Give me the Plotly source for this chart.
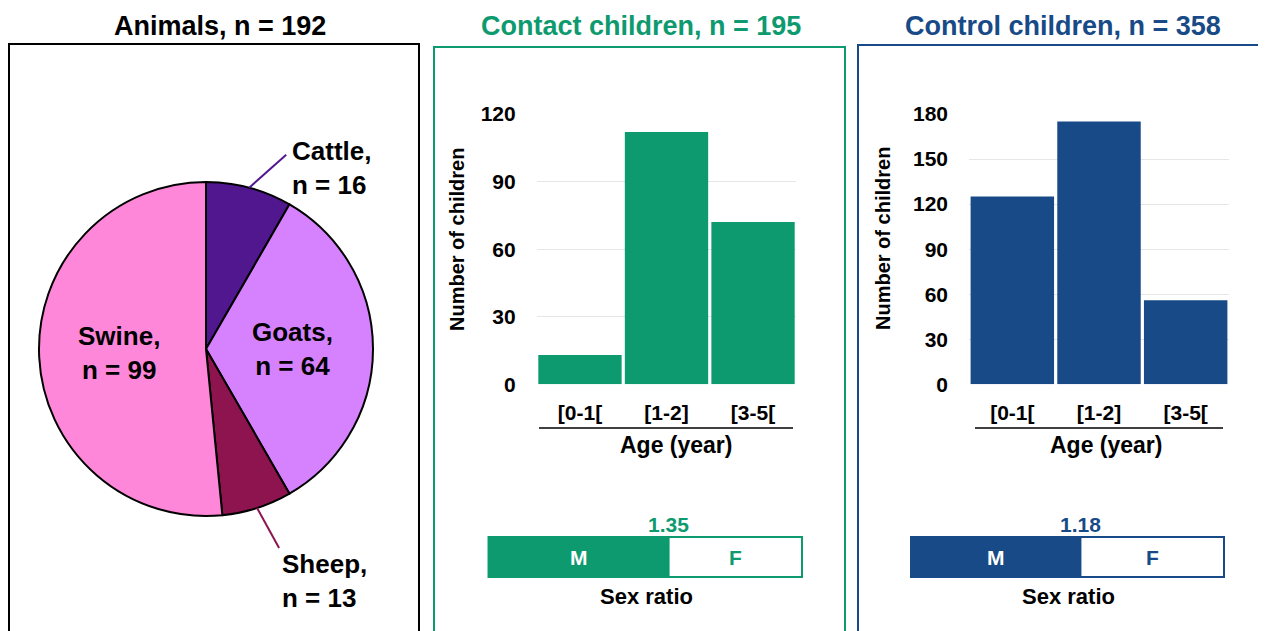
import math
import plotly.graph_objects as go

# ---------------- data ----------------
animal_labels = ["Cattle", "Goats", "Sheep", "Swine"]
animal_counts = [16, 64, 13, 99]
animals_n = 192

age_groups = ["[0-1[", "[1-2]", "[3-5["]
contact_counts = [13, 112, 72]
control_counts = [125, 175, 56]
contact_n = 195
control_n = 358

contact_sex_ratio = 1.35
control_sex_ratio = 1.18

contact_yticks = [0, 30, 60, 90, 120]
control_yticks = [0, 30, 60, 90, 120, 150, 180]

# ---------------- style ----------------
VW, VH = 1266, 631          # browser window
OFF = 8                     # default body margin of the page
W, H = VW - OFF, VH - OFF   # figure size so it fits the window
FONT = "Arial, 'Liberation Sans', Helvetica, sans-serif"
animal_colors = ["#50178E", "#D682FF", "#8E1450", "#FF87D9"]
GREEN = "#0E9A6F"
BLUE = "#174A86"
GRID = "#E6E6E6"


def fx(px):
    return (px - OFF) / W


def fy(py):
    return 1 - (py - OFF) / H


def bold(size, color="black"):
    return dict(family=FONT, size=size, color=color, weight="bold")


fig = go.Figure()

# ---------------- pie ----------------
pie_cx, pie_cy, pie_r = 206, 349, 167
fig.add_trace(go.Pie(
    labels=animal_labels, values=animal_counts, sort=False,
    direction="clockwise", rotation=0, textinfo="none",
    marker=dict(colors=animal_colors, line=dict(color="black", width=2)),
    domain=dict(x=[fx(pie_cx - pie_r), fx(pie_cx + pie_r)],
                y=[fy(pie_cy + pie_r), fy(pie_cy - pie_r)]),
    showlegend=False, hoverinfo="label+value", automargin=False,
))

# pie labels positioned from slice angles
total = sum(animal_counts)
outside_style = {
    "Cattle": dict(line=(37, -33), text=(41, -20)),
    "Sheep": dict(line=(22, 40), text=(23, 73)),
}
cum = 0
annotations = []
shapes = []
for lab, val, col in zip(animal_labels, animal_counts, animal_colors):
    a0 = cum / total * 360
    cum += val
    a1 = cum / total * 360
    mid = math.radians((a0 + a1) / 2)
    txt = f"{lab},<br>n = {val}"
    if lab in outside_style:
        sx = pie_cx + pie_r * math.sin(mid)
        sy = pie_cy - pie_r * math.cos(mid)
        lx, ly = outside_style[lab]["line"]
        tx, ty = outside_style[lab]["text"]
        shapes.append(dict(type="line", xref="paper", yref="paper",
                           x0=fx(sx), y0=fy(sy), x1=fx(sx + lx), y1=fy(sy + ly),
                           line=dict(color=col, width=2)))
        annotations.append(dict(x=fx(sx + tx), y=fy(sy + ty), xref="paper", yref="paper",
                                text=txt, showarrow=False, xanchor="left", yanchor="middle",
                                align="left", font=bold(26)))
    else:
        rf = 0.52
        px_ = pie_cx + rf * pie_r * math.sin(mid)
        py_ = pie_cy - rf * pie_r * math.cos(mid)
        annotations.append(dict(x=fx(px_), y=fy(py_), xref="paper", yref="paper",
                                text=txt, showarrow=False, xanchor="center", yanchor="middle",
                                align="center", font=bold(26)))

# ---------------- bar charts ----------------
fig.add_trace(go.Bar(x=age_groups, y=contact_counts, marker=dict(color=GREEN, line=dict(width=0)),
                     xaxis="x", yaxis="y", showlegend=False))
fig.add_trace(go.Bar(x=age_groups, y=control_counts, marker=dict(color=BLUE, line=dict(width=0)),
                     xaxis="x2", yaxis="y2", showlegend=False))


# ---------------- sex ratio bars ----------------
def sex_bars(ratio, color, xa, ya):
    fig.add_trace(go.Bar(y=[0], x=[ratio], base=[0], orientation="h", width=1,
                         marker=dict(color=color, line=dict(color=color, width=2)),
                         xaxis=xa, yaxis=ya, showlegend=False, hoverinfo="skip"))
    fig.add_trace(go.Bar(y=[0], x=[1], base=[ratio], orientation="h", width=1,
                         marker=dict(color="white", line=dict(color=color, width=2)),
                         xaxis=xa, yaxis=ya, showlegend=False, hoverinfo="skip"))


sex_bars(contact_sex_ratio, GREEN, "x3", "y3")
sex_bars(control_sex_ratio, BLUE, "x4", "y4")

tickfont = bold(21)
bar_y_dom = [fy(384.3), fy(114)]


def bar_axes(xdom, yrange, yticks):
    xa = dict(domain=xdom, type="category", showline=False, showgrid=False, zeroline=False,
              ticks="", tickfont=tickfont, ticklabelstandoff=14, automargin=False)
    ya = dict(domain=bar_y_dom, range=yrange, tickvals=yticks, showline=False, showgrid=True,
              gridcolor=GRID, gridwidth=1, zeroline=False, ticks="", tickfont=tickfont,
              ticklabelstandoff=20, automargin=False)
    return xa, ya


xa1, ya1 = bar_axes([fx(536.7), fx(796.3)], [0, 120], contact_yticks)
xa2, ya2 = bar_axes([fx(969), fx(1229)], [0, 180], control_yticks)
xa1["anchor"] = "y"
ya1["anchor"] = "x"
xa2["anchor"] = "y2"
ya2["anchor"] = "x2"


def sex_axes(x0, x1, ratio, anchor):
    tot = ratio + 1
    pad_px = 1.5
    pad = pad_px * tot / (x1 - x0)
    xa = dict(domain=[fx(x0 - pad_px), fx(x1 + pad_px)], range=[-pad, tot + pad], visible=False,
              anchor=anchor[1], fixedrange=True, automargin=False)
    ya = dict(domain=[fy(577 + pad_px), fy(537 - pad_px)], range=[-0.5 - 0.04, 0.5 + 0.04],
              visible=False, anchor=anchor[0], fixedrange=True, automargin=False)
    return xa, ya


xa3, ya3 = sex_axes(488.5, 802, contact_sex_ratio, ("x3", "y3"))
xa4, ya4 = sex_axes(911, 1224, control_sex_ratio, ("x4", "y4"))

# sex ratio annotations
for ratio, color, xr, yr, cx in [(contact_sex_ratio, GREEN, "x3", "y3", 646),
                                 (control_sex_ratio, BLUE, "x4", "y4", 1068)]:
    annotations.append(dict(x=ratio, y=fy(524), xref=xr, yref="paper", text=f"{ratio:.2f}",
                            xanchor="center", yanchor="middle",
                            showarrow=False, font=bold(21, color)))
    annotations.append(dict(x=ratio / 2, y=0, xref=xr, yref=yr, text="M", showarrow=False,
                            xanchor="center", yanchor="middle", font=bold(21, "white")))
    annotations.append(dict(x=ratio + 0.5, y=0, xref=xr, yref=yr, text="F", showarrow=False,
                            xanchor="center", yanchor="middle", font=bold(21, color)))
    annotations.append(dict(x=fx(cx), y=fy(596), xref="paper", yref="paper", text="Sex ratio",
                            xanchor="center", yanchor="middle",
                            showarrow=False, font=bold(22)))

# axis titles
for cx in (676, 1106):
    annotations.append(dict(x=fx(cx), y=fy(445), xref="paper", yref="paper", text="Age (year)",
                            xanchor="center", yanchor="middle",
                            showarrow=False, font=bold(23)))
for cx in (457, 883):
    annotations.append(dict(x=fx(cx), y=fy(239), xref="paper", yref="paper", text="Number of children",
                            textangle=-90, showarrow=False, xanchor="center", yanchor="middle",
                            font=bold(20)))

# panel titles
for cx, txt, col in [(220, f"Animals, n = {animals_n}", "black"),
                     (641, f"Contact children, n = {contact_n}", GREEN),
                     (1063, f"Control children, n = {control_n}", BLUE)]:
    annotations.append(dict(x=fx(cx), y=fy(26), xref="paper", yref="paper", text=txt,
                            xanchor="center", yanchor="middle",
                            showarrow=False, font=bold(27, col)))

# underline below tick labels
for x0, x1 in [(539, 793), (975, 1223)]:
    shapes.append(dict(type="line", xref="paper", yref="paper", x0=fx(x0), x1=fx(x1),
                       y0=fy(428), y1=fy(428), line=dict(color="black", width=1.5)))

# panel borders
for x0, y0, x1, col in [(9, 44, 419, "black"), (434, 47, 845, GREEN), (858, 45, 1280, BLUE)]:
    shapes.append(dict(type="rect", xref="paper", yref="paper", x0=fx(x0), x1=fx(x1),
                       y0=fy(y0), y1=fy(VH + 20), line=dict(color=col, width=2),
                       fillcolor="rgba(0,0,0,0)", layer="above"))

fig.update_layout(
    width=W, height=H, margin=dict(l=0, r=0, t=0, b=0, pad=0, autoexpand=False),
    paper_bgcolor="white", plot_bgcolor="white",
    barmode="overlay", bargap=0.037, showlegend=False,
    font=dict(family=FONT, color="black"),
    xaxis=xa1, yaxis=ya1, xaxis2=xa2, yaxis2=ya2,
    xaxis3=xa3, yaxis3=ya3, xaxis4=xa4, yaxis4=ya4,
    annotations=annotations, shapes=shapes,
)

fig.write_html("out.html")
